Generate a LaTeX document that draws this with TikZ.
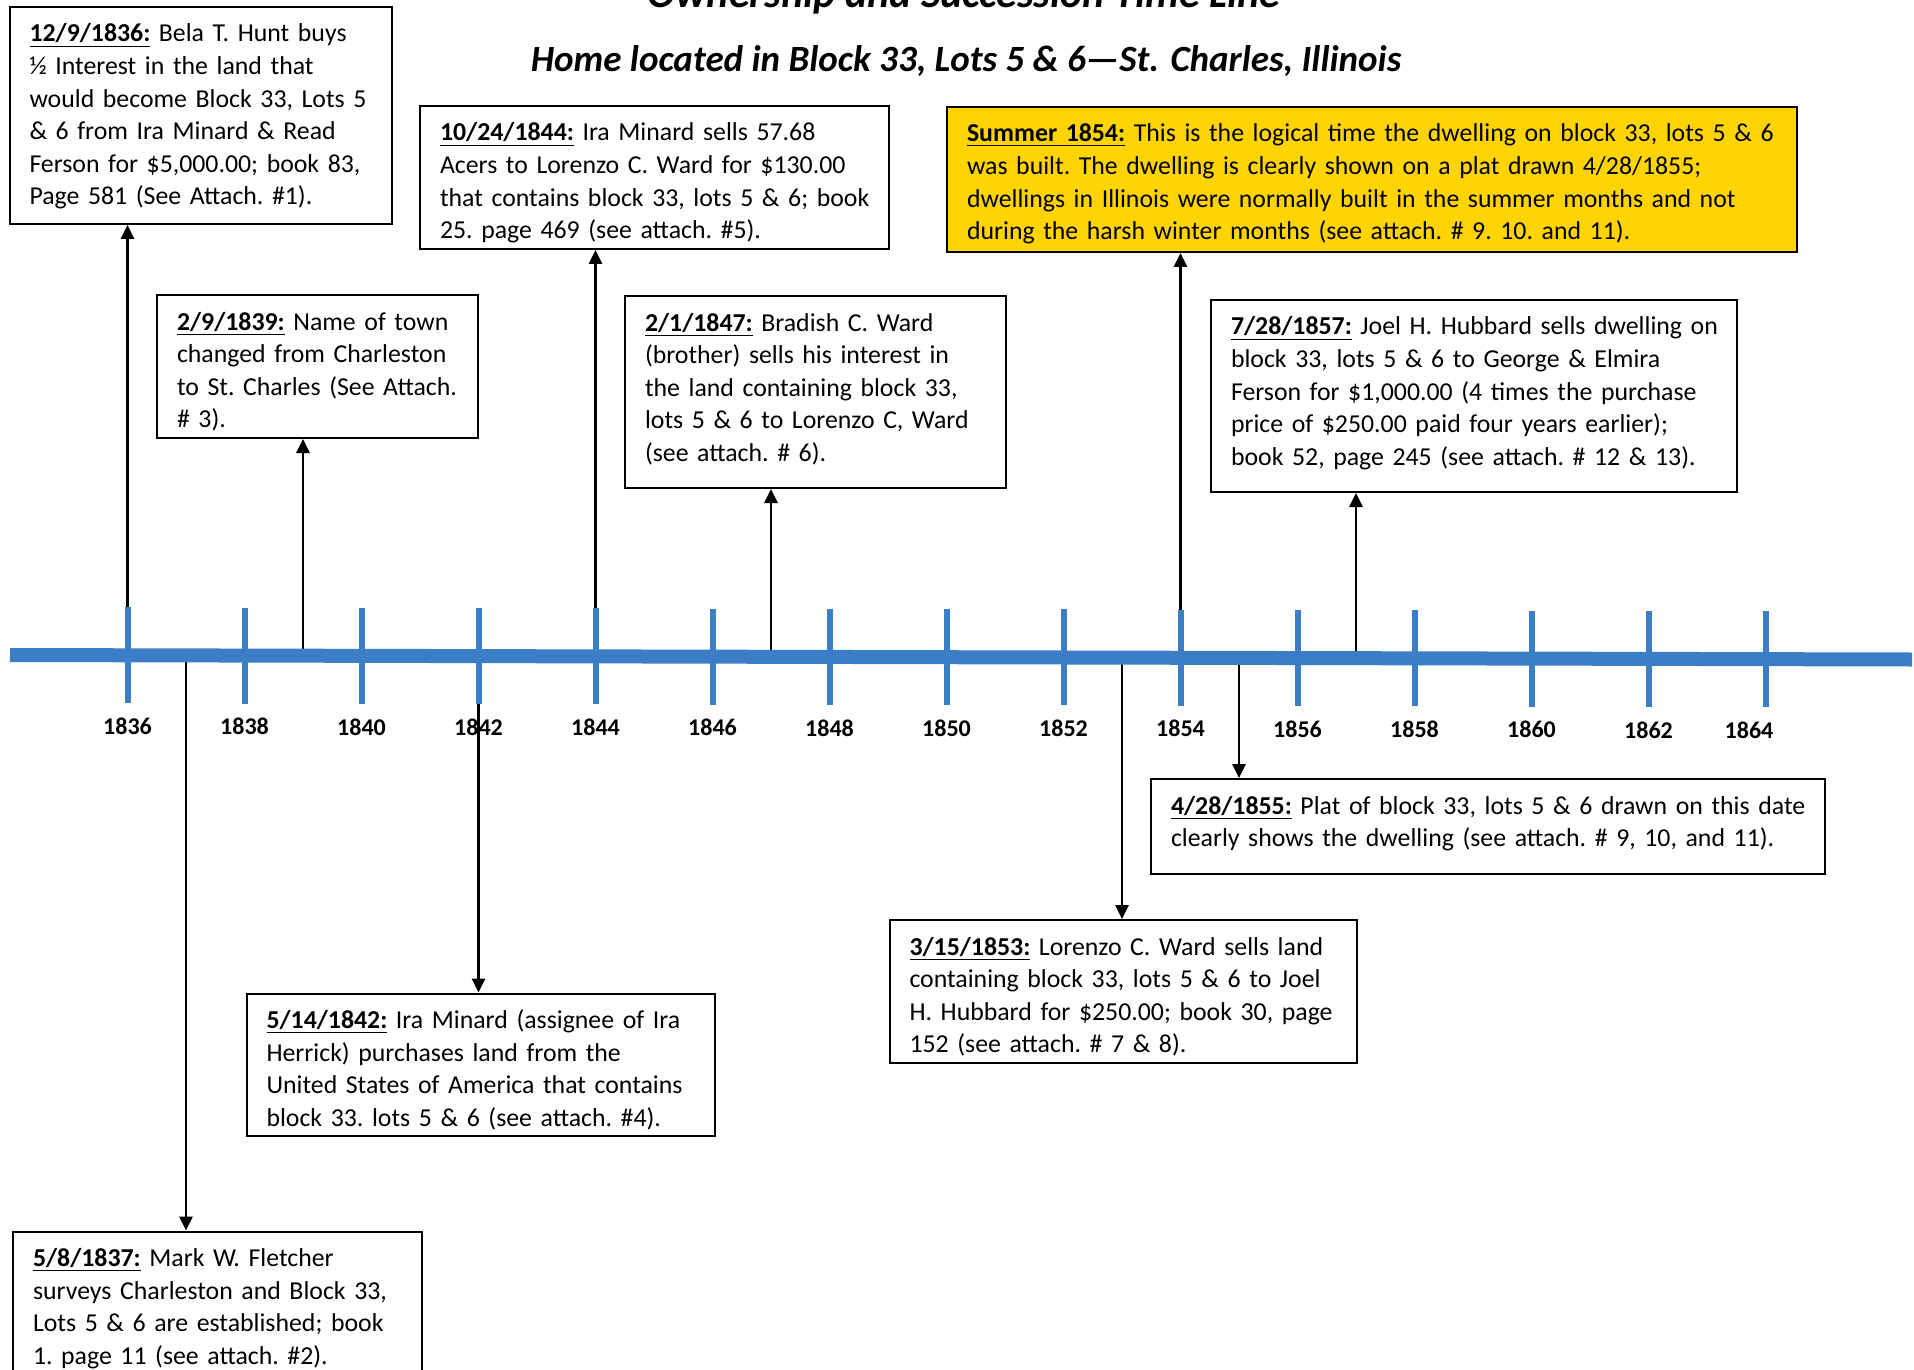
\documentclass[tikz,border=0pt]{standalone}
\usepackage{fontspec}
\setmainfont{Carlito}
\usetikzlibrary{arrows.meta}
\definecolor{tlblue}{RGB}{60,125,200}
\definecolor{sumgold}{RGB}{255,212,0}
\newcommand{\evdate}[1]{\underline{\textbf{#1}}}
\newcommand{\evfont}{\fontsize{12.9pt}{16.3pt}\selectfont\frenchspacing\hyphenpenalty=10000}

\begin{document}
\begin{tikzpicture}[x=0.5pt, y=-0.5pt, >={Triangle[length=7pt,width=6.5pt]},
	   ev/.style={draw, line width=1pt, fill=white, anchor=north west, align=left,
	     inner xsep=10pt, inner ysep=0pt, text height=17.5pt, font=\evfont,
	     execute at begin node={\rightskip=-12pt plus 1fil\relax}},
	   lnk/.style={->, line width=1.4pt},
	   yrtick/.style={draw=tlblue, line width=3pt},
	   yrlab/.style={font=\fontsize{12pt}{14pt}\selectfont\bfseries},
	   ttl/.style={anchor=base}]
	  \path[fill=white, use as bounding box] (0,0) rectangle (1914,1369);
	  \coordinate (ax0) at (10,655);
	  \coordinate (ax1) at (1912,659.5);
	  \coordinate (t1836) at (127.5,655.3);
	  \coordinate (t1837) at (186,655.4);
	  \coordinate (t1839) at (303,655.7);
	  \coordinate (t1842) at (478.5,656.1);
	  \coordinate (t1844) at (595.5,656.4);
	  \coordinate (t1847) at (771,656.8);
	  \coordinate (t1853) at (1122,657.6);
	  \coordinate (t1854) at (1180.5,657.8);
	  \coordinate (t1855) at (1239,657.9);
	  \coordinate (t1857) at (1356,658.2);

	  \node[ttl, font=\fontsize{21pt}{25pt}\selectfont\bfseries\itshape] (ttla) at (964,8) {Ownership and Succession Time Line};
	  \node[ttl, font=\fontsize{18.5pt}{22pt}\selectfont\bfseries\itshape] (ttlb) at (966,72) {Home located in Block 33, Lots 5 \& 6—St. Charles, Illinois};

	  \node[ev, text width=171pt, text depth=91pt] (b1836) at (8.5,6) {\evdate{12/9/1836:} Bela T. Hunt buys\\ ½ Interest in the land that\\ would become Block 33, Lots 5\\ \& 6 from Ira Minard \& Read\\ Ferson for \$5,000.00; book 83,\\ Page 581 (See Attach. \#1).};
	  \node[ev, text width=140.5pt, text depth=54pt] (b1839) at (156,294) {\evdate{2/9/1839:} Name of town\\ changed from Charleston\\ to St. Charles (See Attach.\\ \# 3).};
	  \node[ev, text width=214.5pt, text depth=54pt] (b1844) at (419,105) {\evdate{10/24/1844:} Ira Minard sells 57.68\\ Acers to Lorenzo C. Ward for \$130.00\\ that contains block 33, lots 5 \& 6; book\\ 25. page 469 (see attach. \#5).};
	  \node[ev, text width=170.5pt, text depth=78.5pt] (b1847) at (624,295) {\evdate{2/1/1847:} Bradish C. Ward\\ (brother) sells his interest in\\ the land containing block 33,\\ lots 5 \& 6 to Lorenzo C, Ward\\ (see attach. \# 6).};
	  \node[ev, fill=sumgold, text width=405pt, text depth=55pt] (b1854) at (946,106) {\evdate{Summer 1854:} This is the logical time the dwelling on block 33, lots 5 \& 6\\ was built. The dwelling is clearly shown on a plat drawn 4/28/1855;\\ dwellings in Illinois were normally built in the summer months and not\\ during the harsh winter months (see attach. \# 9. 10. and 11).};
	  \node[ev, text width=243pt, text depth=78.5pt] (b1857) at (1210,299) {\evdate{7/28/1857:} Joel H. Hubbard sells dwelling on\\ block 33, lots 5 \& 6 to George \& Elmira\\ Ferson for \$1,000.00 (4 times the purchase\\ price of \$250.00 paid four years earlier);\\ book 52, page 245 (see attach. \# 12 \& 13).};
	  \node[ev, text width=184.5pt, text depth=80pt] (b1837) at (12,1230.5) {\evdate{5/8/1837:} Mark W. Fletcher\\ surveys Charleston and Block 33,\\ Lots 5 \& 6 are established; book\\ 1. page 11 (see attach. \#2).};
	  \node[ev, text width=214pt, text depth=53.5pt] (b1842) at (245.5,992.5) {\evdate{5/14/1842:} Ira Minard (assignee of Ira\\ Herrick) purchases land from the\\ United States of America that contains\\ block 33. lots 5 \& 6 (see attach. \#4).};
	  \node[ev, text width=213.5pt, text depth=54pt] (b1853) at (888.5,919) {\evdate{3/15/1853:} Lorenzo C. Ward sells land\\ containing block 33, lots 5 \& 6 to Joel\\ H. Hubbard for \$250.00; book 30, page\\ 152 (see attach. \# 7 \& 8).};
	  \node[ev, text width=317pt, text depth=30pt] (b1855) at (1150,778) {\evdate{4/28/1855:} Plat of block 33, lots 5 \& 6 drawn on this date\\ clearly shows the dwelling (see attach. \# 9, 10, and 11).};

	  \foreach \i in {0,...,13}{
	    \pgfmathsetmacro{\tx}{127.5+117*\i}
	    \pgfmathtruncatemacro{\yr}{1836+2*\i}
	    \node[yrlab] (y\yr) at (\tx,{726+0.00237*\tx}) {\yr};
	  }
	  \node[yrlab] (y1864) at (1749,730) {1864};

	  \foreach \e in {1836,1839,1844,1847,1854,1857}
	    \draw[lnk] (t\e) -- (t\e |- b\e.south);
	  \foreach \e in {1837,1842,1853,1855}
	    \draw[lnk] (t\e) -- (t\e |- b\e.north);

	  \draw[draw=tlblue, line width=7pt] (ax0) -- (ax1);
	  \foreach \i in {0,...,14}{
	    \pgfmathsetmacro{\tx}{127.5+117*\i}
	    \pgfmathsetmacro{\ty}{655+0.00237*(\tx-10)}
	    \draw[yrtick] (\tx,\ty-48) -- (\tx,\ty+48);
	  }
	\end{tikzpicture}
\end{document}
